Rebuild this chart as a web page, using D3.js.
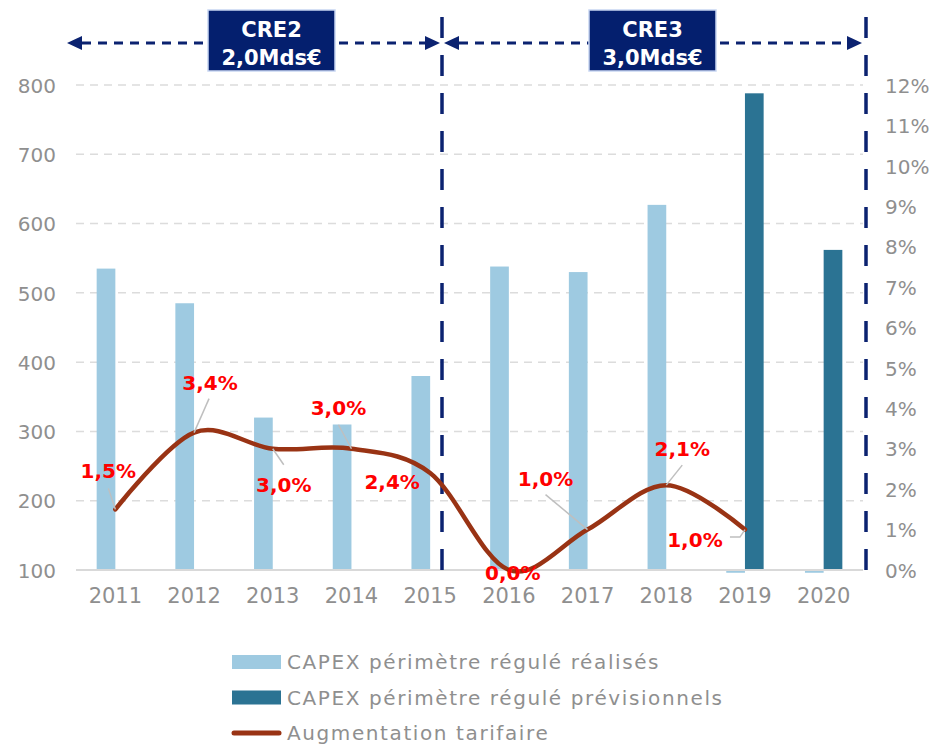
<html>
  <head>
    <meta charset="utf-8">
    <title>CAPEX périmètre régulé</title>
    <style>
      body {
          margin: 0;
          background: #fff;
      }
      text {
          font-family: "DejaVu Sans", sans-serif;
      }
      .tick-label {
          font-size: 20px;
          fill: #8f8f8f;
      }
      .x-label {
          font-size: 21px;
          fill: #8f8f8f;
      }
      .legend-label {
          font-size: 20px;
          fill: #8f8f8f;
          letter-spacing: 1.6px;
      }
      .value-label {
          font-size: 20px;
          font-weight: bold;
          fill: #ff0000;
          text-anchor: middle;
      }
      .box-label {
          font-size: 21px;
          font-weight: bold;
          fill: #fff;
          text-anchor: middle;
      }
    </style>
  </head>
  <body>
    <script src="https://cdn.jsdelivr.net/npm/d3@7"></script>
    <svg id="chart" width="932" height="745"></svg>
    <script type="text/javascript">
// data
var years = ["2011", "2012", "2013", "2014", "2015", "2016", "2017", "2018", "2019", "2020"];
var capexRealises = [535, 485, 320, 310, 380, 538, 530, 627, 96, 96];
var capexPrevisionnels = [null, null, null, null, null, null, null, null, 788, 562];
var augmentation = [1.5, 3.4, 3.0, 3.0, 2.4, 0.0, 1.0, 2.1, 1.0, null]; // %
var leftTicks = [100, 200, 300, 400, 500, 600, 700, 800];
var rightTicks = [0, 1, 2, 3, 4, 5, 6, 7, 8, 9, 10, 11, 12];
var periods = [
  { name: "CRE2", amount: "2,0Mds€" },
  { name: "CRE3", amount: "3,0Mds€" }
];
var legendItems = [
  { name: "CAPEX périmètre régulé réalisés", kind: "bar", colour: "#9ecae1" },
  { name: "CAPEX périmètre régulé prévisionnels", kind: "bar", colour: "#2b7393" },
  { name: "Augmentation tarifaire", kind: "line", colour: "#993314" }
];

// where each % label sits relative to its point (label, then leader start)
var labelPlacement = [
  { dx: -7, dy: -31, lead: [[-7, -21]] },
  { dx: 16, dy: -43, lead: [[15, -34]] },
  { dx: 11, dy: 43, lead: [[11, 16]] },
  { dx: -13, dy: -34, lead: [[-13, -24]] },
  { dx: -38, dy: 16, lead: null },
  { dx: 4, dy: 10, lead: null },
  { dx: -42, dy: -44, lead: [[-42, -35]] },
  { dx: 16, dy: -29, lead: [[16, -20]] },
  { dx: -50, dy: 17, lead: [[-15, 7.5], [-5, 7.5]] },
  null
];

var svg = d3.select("#chart");
// note: "top" is taken by window.top, so prefix these
var plotLeft = 76, plotRight = 863, plotTop = 85, plotBottom = 570;

var x = d3.scaleBand()
    .domain(years)
    .range([plotLeft, plotRight])
    .paddingInner(0.525)
    .paddingOuter(0.2625);
var barW = x.bandwidth() / 2;
var xc = d => x(d) + x.bandwidth() / 2;

var y = d3.scaleLinear().domain([100, 800]).range([plotBottom, plotTop]);
var yR = d3.scaleLinear().domain([0, 12]).range([plotBottom, plotTop]);

var fmt = v => d3.format(".1f")(v).replace(".", ",") + "%";

// grid
svg.append("g").selectAll("line")
    .data(leftTicks.filter(t => t > 100))
  .enter().append("line")
    .attr("x1", plotLeft).attr("x2", plotRight)
    .attr("y1", d => y(d)).attr("y2", d => y(d))
    .attr("stroke", "#dcdcdc")
    .attr("stroke-width", 1.5)
    .attr("stroke-dasharray", "8,6");

// left axis
var yAxis = svg.append("g")
    .attr("transform", "translate(" + (plotLeft - 20) + ",0)")
    .call(d3.axisLeft(y).tickValues(leftTicks).tickSize(0).tickPadding(0));
yAxis.select(".domain").remove();
yAxis.selectAll("text").attr("class", "tick-label").attr("dy", "0.36em");

// right axis
var yAxisR = svg.append("g")
    .attr("transform", "translate(885,0)")
    .call(d3.axisRight(yR).tickValues(rightTicks).tickSize(0).tickPadding(0)
      .tickFormat(d => d + "%"));
yAxisR.select(".domain").remove();
yAxisR.selectAll("text").attr("class", "tick-label").attr("dy", "0.36em");

// x axis labels
var xAxis = svg.append("g")
    .attr("transform", "translate(0," + (plotBottom + 13) + ")")
    .call(d3.axisBottom(x).tickSize(0).tickPadding(0));
xAxis.select(".domain").remove();
xAxis.selectAll("text").attr("class", "x-label").attr("dy", "0.95em");

// bars
function barRect(sel, values, offset, colour) {
  sel.selectAll("rect")
      .data(years.map((yr, i) => ({ yr: yr, v: values[i] })).filter(d => d.v != null))
    .enter().append("rect")
      .attr("x", d => xc(d.yr) + offset)
      .attr("width", barW)
      .attr("y", d => Math.min(y(d.v), y(100)))
      .attr("height", d => Math.abs(y(100) - y(d.v)))
      .attr("fill", colour);
}
barRect(svg.append("g"), capexRealises, -barW, legendItems[0].colour);
barRect(svg.append("g"), capexPrevisionnels, 0, legendItems[1].colour);

// baseline
svg.append("line")
    .attr("x1", plotLeft).attr("x2", plotRight)
    .attr("y1", plotBottom).attr("y2", plotBottom)
    .attr("stroke", "#d9d9d9").attr("stroke-width", 2);

// period annotations
var navy = "#0b2270";
var divider = [442, 866];
var ann = svg.append("g");
divider.forEach(dx => {
  ann.append("line")
      .attr("x1", dx).attr("x2", dx)
      .attr("y1", 17).attr("y2", plotBottom)
      .attr("stroke", navy).attr("stroke-width", 3.5)
      .attr("stroke-dasharray", "21,17");
});
var arrowY = 43;
var boxes = [{ x0: 208, x1: 335 }, { x0: 589, x1: 716 }];
var spans = [[67, 440], [444, 862]];
function arrowHead(tip, dir) {
  ann.append("path")
      .attr("d", "M" + tip + "," + arrowY +
                 "L" + (tip - dir * 15) + "," + (arrowY - 7) +
                 "L" + (tip - dir * 15) + "," + (arrowY + 7) + "Z")
      .attr("fill", navy);
}
function dashSeg(a, b) {
  ann.append("line")
      .attr("x1", a).attr("x2", b)
      .attr("y1", arrowY).attr("y2", arrowY)
      .attr("stroke", navy).attr("stroke-width", 3)
      .attr("stroke-dasharray", "9,7");
}
periods.forEach((p, i) => {
  var s = spans[i], b = boxes[i];
  dashSeg(s[0] + 15, b.x0);
  dashSeg(b.x1 + 4, s[1] - 14);
  arrowHead(s[0], -1);
  arrowHead(s[1], 1);
  ann.append("rect")
      .attr("x", b.x0).attr("y", 10)
      .attr("width", b.x1 - b.x0).attr("height", 61)
      .attr("fill", "#041f6e")
      .attr("stroke", "#c8d6f2").attr("stroke-width", 1.5);
  ann.append("text").attr("class", "box-label")
      .attr("x", (b.x0 + b.x1) / 2).attr("y", 37).text(p.name);
  ann.append("text").attr("class", "box-label")
      .attr("x", (b.x0 + b.x1) / 2).attr("y", 65).text(p.amount);
});

// tariff line
var pts = years.map((yr, i) => ({ yr: yr, v: augmentation[i], i: i }))
    .filter(d => d.v != null);
svg.append("path")
    .datum(pts)
    .attr("d", d3.line()
        .x(d => xc(d.yr))
        .y(d => yR(d.v))
        .curve(d3.curveCardinal.tension(0)))
    .attr("fill", "none")
    .attr("stroke", legendItems[2].colour)
    .attr("stroke-width", 4.5)
    .attr("stroke-linecap", "round");

// leaders and labels
var lab = svg.append("g");
pts.forEach(d => {
  var p = labelPlacement[d.i];
  if (!p) return;
  var px = xc(d.yr), py = yR(d.v);
  if (p.lead) {
    var path = p.lead.map(o => [px + o[0], py + o[1]]);
    path.push([px, py]);
    lab.append("path")
        .attr("d", d3.line()(path))
        .attr("fill", "none")
        .attr("stroke", "#bfbfbf")
        .attr("stroke-width", 1.5);
  }
  lab.append("text")
      .attr("class", "value-label")
      .attr("x", px + p.dx)
      .attr("y", py + p.dy)
      .text(fmt(d.v));
});

// legend
var legend = svg.append("g").selectAll("g")
    .data(legendItems)
  .enter().append("g")
    .attr("transform", (d, i) => "translate(232," + (662 + i * 35.5) + ")");
legend.each(function(d) {
  var g = d3.select(this);
  if (d.kind == "bar") {
    g.append("rect")
        .attr("x", 0).attr("y", -7)
        .attr("width", 49).attr("height", 14)
        .attr("fill", d.colour);
  } else {
    g.append("line")
        .attr("x1", 2).attr("x2", 47)
        .attr("y1", 0).attr("y2", 0)
        .attr("stroke", d.colour)
        .attr("stroke-width", 5)
        .attr("stroke-linecap", "round");
  }
  g.append("text")
      .attr("class", "legend-label")
      .attr("x", 55)
      .attr("dy", "0.36em")
      .text(d.name);
});
    </script>
  </body>
</html>
